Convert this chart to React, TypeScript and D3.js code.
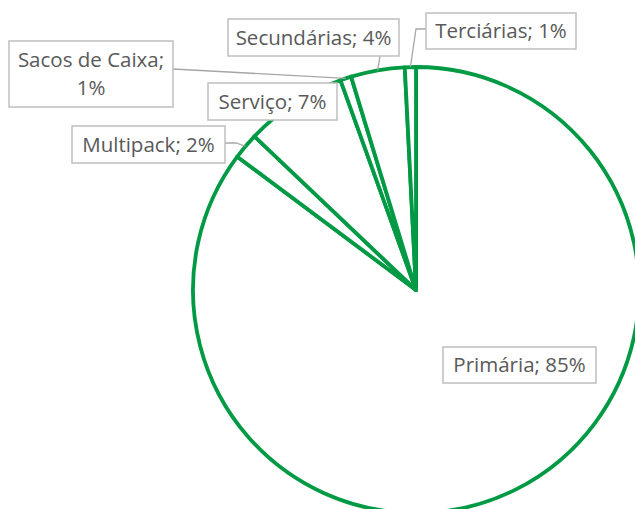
import React, { useEffect, useRef } from "react";
import * as d3 from "d3";

// chart data
const categories = ["Primária", "Multipack", "Serviço", "Sacos de Caixa", "Secundárias", "Terciárias"];
const shares = [85.2, 1.9, 7.4, 0.8, 3.9, 0.8];

// label boxes (x0, y0, x1, y1) and leader line start points
const labelBoxes: Record<string, number[]> = {
  "Primária": [443, 347, 596, 383],
  "Multipack": [72, 126, 225, 163],
  "Serviço": [208, 83, 337, 120],
  "Sacos de Caixa": [9, 41, 173, 107],
  "Secundárias": [228, 19, 399, 56],
  "Terciárias": [426, 13, 576, 49],
};
const leaders: Record<string, number[][]> = {
  "Multipack": [[225, 143], [236, 143]],
  "Sacos de Caixa": [[173, 69]],
  "Secundárias": [[380, 56]],
  "Terciárias": [[426, 29], [416, 29]],
};

const W = 635;
const H = 509;
const GREEN = "#009a44";
const TEXT = "#595959";
const FONT = "'Open Sans', sans-serif";

export default function App() {
  const svgRef = useRef<SVGSVGElement>(null);

  useEffect(() => {
    const svg = d3.select(svgRef.current);
    svg.selectAll("*").remove();

    const cx = 416;
    const cy = 290;
    const r = 223;

    const data = categories.map((c, i) => ({ name: c, value: shares[i] }));
    const pie = d3.pie<any>().sort(null).value((d) => d.value).startAngle(0).endAngle(2 * Math.PI);
    const arcs = pie(data);
    const arc = d3.arc<any>().innerRadius(0).outerRadius(r);

    const g = svg.append("g").attr("transform", `translate(${cx},${cy})`);
    g.selectAll("path")
      .data(arcs)
      .enter()
      .append("path")
      .attr("d", arc)
      .attr("fill", "#ffffff")
      .attr("stroke", GREEN)
      .attr("stroke-width", 3.8)
      .attr("stroke-linejoin", "round");

    // leader lines
    arcs.forEach((a) => {
      const pts = leaders[a.data.name];
      if (!pts) return;
      const mid = (a.startAngle + a.endAngle) / 2;
      const end = [cx + r * Math.sin(mid), cy - r * Math.cos(mid)];
      svg.append("path")
        .attr("d", d3.line()([...pts, end] as [number, number][]))
        .attr("fill", "none")
        .attr("stroke", "#a6a6a6")
        .attr("stroke-width", 1.3);
    });

    // labels
    arcs.forEach((a) => {
      const name = a.data.name;
      const [x0, y0, x1, y1] = labelBoxes[name];
      svg.append("rect")
        .attr("x", x0)
        .attr("y", y0)
        .attr("width", x1 - x0)
        .attr("height", y1 - y0)
        .attr("fill", "#ffffff")
        .attr("stroke", "#bfbfbf")
        .attr("stroke-width", 1.5);

      const pct = `${Math.round(a.data.value)}%`;
      const lines = name === "Sacos de Caixa" ? [name + ";", pct] : [`${name}; ${pct}`];
      const lh = 28;
      const midY = (y0 + y1) / 2 - ((lines.length - 1) * lh) / 2;
      lines.forEach((t, i) => {
        svg.append("text")
          .attr("x", (x0 + x1) / 2)
          .attr("y", midY + i * lh)
          .attr("dy", "0.35em")
          .attr("text-anchor", "middle")
          .attr("font-family", FONT)
          .attr("font-size", 20.5)
          .attr("fill", TEXT)
          .text(t);
      });
    });
  }, []);

  return (
    <svg
      ref={svgRef}
      width={W}
      height={H}
      style={{ position: "absolute", left: 0, top: 0, background: "#ffffff" }}
    />
  );
}
